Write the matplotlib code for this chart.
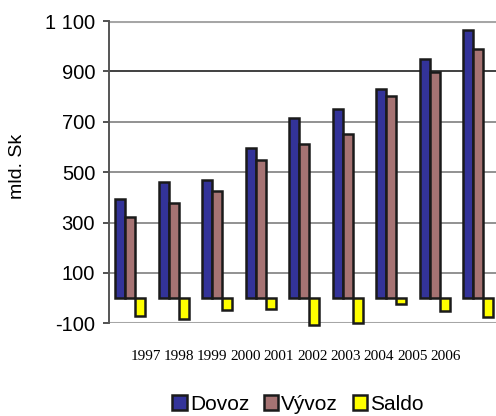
import numpy as np
import matplotlib
matplotlib.use("Agg")
import matplotlib.pyplot as plt

# donnees (mld. Sk)
roky = ["1997", "1998", "1999", "2000", "2001", "2002", "2003", "2004", "2005", "2006"]
dovoz = [394, 460, 468, 594, 715, 751, 830, 950, 1065]
vyvoz = [323, 379, 425, 549, 613, 652, 803, 899, 990]
saldo = [-70, -84, -47, -44, -106, -97, -23, -52, -73]

yticks = [-100, 100, 300, 500, 700, 900, 1100]
ytick_labels = ["-100", "100", "300", "500", "700", "900", "1 100"]

plt.rcParams['font.family'] = ['Liberation Sans', 'DejaVu Sans']

fig = plt.figure(figsize=(4.96, 4.16), dpi=100)
ax = fig.add_axes([0.2198, 0.2228, 0.7802, 0.7267])

x = np.arange(len(dovoz))
w = 0.232
edge = dict(edgecolor="#1a1a1a", linewidth=1.8, zorder=3, clip_on=False)
ax.bar(x - w, dovoz, w, color="#333399", label="Dovoz", **edge)
ax.bar(x, vyvoz, w, color="#A67373", label="Vývoz", **edge)
ax.bar(x + w, saldo, w, color="#FFFF00", label="Saldo", **edge)

ax.set_xlim(-0.49, 8.41)
ax.set_ylim(-100, 1100)

# mriezka
for v in [100, 300, 500, 700]:
    ax.axhline(v, color="#7f7f7f", linewidth=1.2, zorder=1)
ax.axhline(900, color="#202020", linewidth=1.2, zorder=1)
ax.axhline(1100, color="#a6a6a6", linewidth=2.2, zorder=1)
ax.axhline(-100, color="#a6a6a6", linewidth=2.2, zorder=1)

for s in ["top", "right", "bottom"]:
    ax.spines[s].set_visible(False)
ax.spines["left"].set_color("#555555")
ax.spines["left"].set_linewidth(1.4)

ax.set_yticks(yticks)
ax.set_yticklabels(ytick_labels, fontsize=14.5)
ax.tick_params(axis="y", length=4, width=1.2, color="#333333", pad=6)

# popisky rokov (posunute voci stlpcom ako v originale)
pos = np.linspace(0.35, 7.25, len(roky))
ax.set_xticks(pos)
ax.set_xticklabels(roky, fontsize=11, family=["Liberation Serif"])
ax.tick_params(axis="x", length=0, pad=19)

fig.text(17 / 496, 1 - 166 / 416, "mld. Sk", rotation=90, fontsize=14,
         ha="center", va="center")

ax.legend(loc="center", bbox_to_anchor=(298 / 496, 1 - 404 / 416),
          bbox_transform=fig.transFigure, ncol=3, frameon=False, fontsize=15,
          handlelength=0.7, handleheight=0.7, handletextpad=0.15,
          columnspacing=0.7, borderaxespad=0)

fig.savefig("out.png", dpi=100)
